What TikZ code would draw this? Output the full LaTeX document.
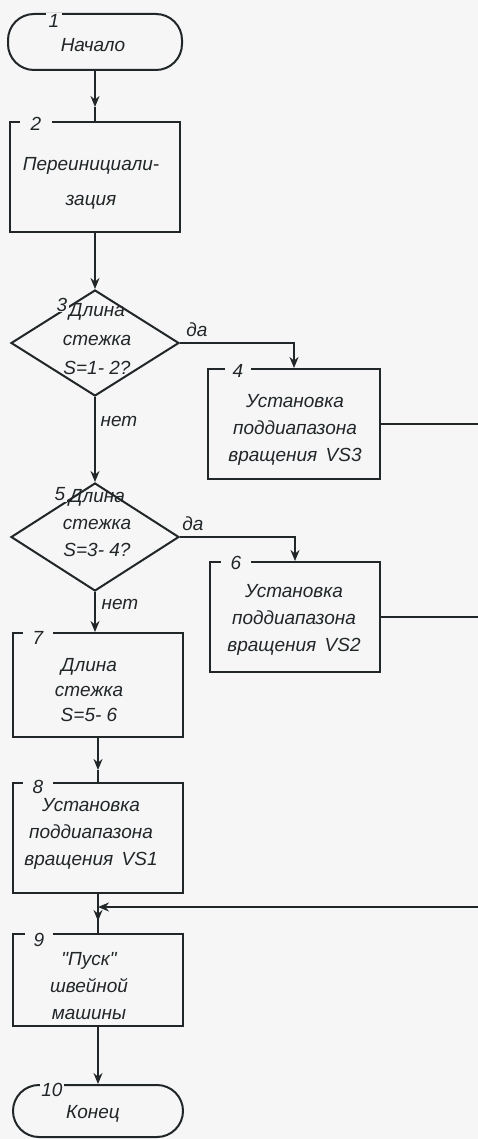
\documentclass[tikz,border=0pt]{standalone}
\usepackage{fontspec}
\setmainfont{Liberation Sans}[Ligatures=TeXOff]
\usetikzlibrary{shapes.geometric,arrows.meta}
\definecolor{bg}{rgb}{0.965,0.965,0.965}
\definecolor{ink}{rgb}{0.13,0.15,0.16}
\begin{document}
\begin{tikzpicture}[x=1pt,y=-1pt,
  every node/.style={font=\fontsize{19}{27}\selectfont\itshape, text=ink},
  ln/.style={draw=ink, line width=2pt},
  arr/.style={ln, -{Stealth[length=11pt,width=9pt]}},
  procbox/.style={ln, rectangle, minimum width=170pt, inner sep=0pt},
  term/.style={ln, rectangle, rounded corners=26pt, minimum width=172pt, inner sep=0pt},
  decision/.style={ln, diamond, inner sep=0pt},
  num/.style={fill=bg, inner ysep=1pt},
  lbl/.style={inner sep=0pt, align=center}
]
\fill[bg] (0,0) rectangle (478,1139);
\useasboundingbox (0,0) rectangle (478,1139);

% shapes
\node[term, minimum width=174pt, minimum height=56pt] (start) at (95,42) {};
\node[procbox, minimum height=110pt] (b2) at (95,177) {};
\node[decision, minimum width=168pt, minimum height=106pt] (d3) at (95,343) {};
\node[procbox, minimum width=172pt, minimum height=110pt] (b4) at (294,424) {};
\node[decision, minimum width=168pt, minimum height=108pt] (d5) at (95,537) {};
\node[procbox, minimum height=110pt] (b6) at (295,617) {};
\node[procbox, minimum height=104pt] (b7) at (98,685) {};
\node[procbox, minimum height=110pt] (b8) at (98,838) {};
\node[procbox, minimum height=92pt] (b9) at (98,980) {};
\node[term, minimum width=170pt, minimum height=52pt] (end) at (98,1111) {};

% texts
\node[lbl] (tstart) at (93,45.5) {Начало};
\node[lbl, font=\fontsize{19}{35}\selectfont\itshape] (t2) at (91,183) {Переинициали-\\зация};
\node[lbl, font=\fontsize{19}{29}\selectfont\itshape] (t3) at (97,339) {Длина\\стежка\\S=1- 2?};
\node[lbl] (t4) at (295,430) {Установка\\поддиапазона\\вращения\, VS3};
\node[lbl] (t5) at (97,523) {Длина\\стежка\\S=3- 4?};
\node[lbl] (t6) at (294,620) {Установка\\поддиапазона\\вращения\, VS2};
\node[lbl, font=\fontsize{19}{25}\selectfont\itshape] (t7) at (89,690) {Длина\\стежка\\S=5- 6};
\node[lbl] (t8) at (91,834) {Установка\\поддиапазона\\вращения\, VS1};
\node[lbl] (t9) at (89,986) {"Пуск"\\швейной\\машины};
\node[lbl] (tend) at (93,1114) {Конец};

% numbers
\node[num, inner xsep=3pt] at (54,21) {1};
\node[num, inner xsep=11pt] at (36,124) {2};
\node[num, inner xsep=2pt] at (62,304.5) {3};
\node[num, inner xsep=8pt] at (238,371) {4};
\node[num, inner xsep=2pt] at (60,494) {5};
\node[num, inner xsep=10pt] at (236,563) {6};
\node[num, inner xsep=10pt] at (38,638) {7};
\node[num, inner xsep=10pt] at (38,787) {8};
\node[num, inner xsep=9pt] at (39,939.5) {9};
\node[num, inner xsep=1pt] at (52,1089.5) {10};

% branch labels
\node[lbl] (y3) at (197,330) {да};
\node[lbl] (n3) at (119,421) {нет};
\node[lbl] (y5) at (193,524) {да};
\node[lbl] (n5) at (120,604) {нет};

% free ends at the right border
\coordinate (r1) at (482,423);
\coordinate (r2) at (482,617);
\coordinate (r3) at (482,907);
\coordinate (j) at (98,907);

% connectors
\draw[arr] (start.south) -- ([yshift=14pt]b2.north);
\draw[ln] ([yshift=14pt]b2.north) -- (b2.north);
\draw[arr] (b2.south) -- (d3.north);
\draw[arr] (d3.east) -- (d3.east -| b4.north) -- (b4.north);
\draw[ln] (b4.east) -- (b4.east -| r1);
\draw[arr] (d3.south) -- (d5.north);
\draw[arr] (d5.east) -- (d5.east -| b6.north) -- (b6.north);
\draw[ln] (b6.east) -- (b6.east -| r2);
\draw[arr] (d5.south) -- (d5.south |- b7.north);
\draw[arr] (b7.south) -- ([yshift=12pt]b8.north);
\draw[ln] ([yshift=12pt]b8.north) -- (b8.north);
\draw[ln] (b8.south) -- (b9.north);
\draw[arr] (r3) -- (j);
\draw[arr] (j) -- ([yshift=12pt]b9.north);
\draw[arr] (b9.south) -- (end.north);
\end{tikzpicture}
\end{document}
